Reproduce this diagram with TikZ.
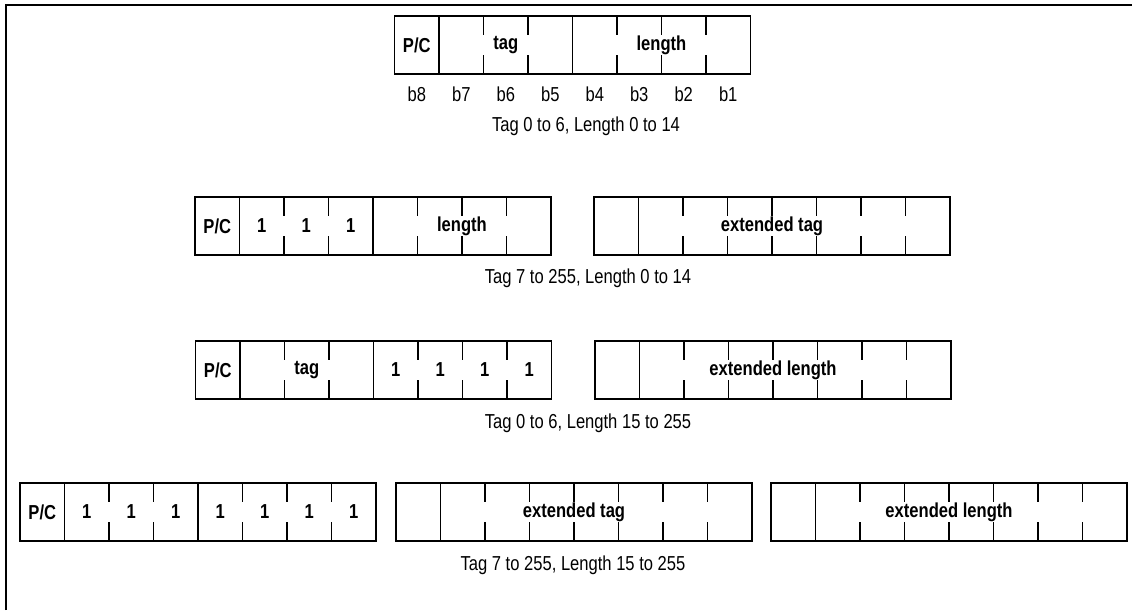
\documentclass[tikz,border=0pt]{standalone}
\usepackage{fontspec}
\setmainfont{Liberation Sans}[FakeStretch=0.82]
\usetikzlibrary{positioning,calc}

% one register = 8 bit cells; #1 name, #2 cells followed by a full divider
\newcommand{\regdividers}[2]{%
  \foreach \i in {1,...,7} {
    \draw[divider] ($(#1.north west)!\i/8!(#1.north east)$) -- ++(0,19);
    \draw[divider] ($(#1.south west)!\i/8!(#1.south east)$) -- ++(0,-19);
  }
  \foreach \i in {#2} {
    \draw[divider] ($(#1.north west)!\i/8!(#1.north east)$) -- ($(#1.south west)!\i/8!(#1.south east)$);
  }
}

\begin{document}
\begin{tikzpicture}[
    x=0.02cm, y=-0.02cm,
    register/.style={rectangle, draw, line width=1pt, outer sep=0pt, inner sep=0pt, minimum width=7.12cm, minimum height=1.16cm},
    divider/.style={line width=1pt},
    frame/.style={line width=1.2pt},
    field/.style={font=\fontsize{11.5}{13}\selectfont\bfseries, inner sep=0pt},
    bitno/.style={font=\fontsize{11.5}{13}\selectfont, inner sep=0pt},
    caption/.style={font=\fontsize{11.5}{13}\selectfont, inner sep=0pt}
]
    \useasboundingbox (0,0) rectangle (1132,610);
    \draw[frame] (6,610) -- (6,5) -- (1132,5);

    % Tag 0 to 6, Length 0 to 14
    \node[register] (r1) at (572.5,45) {};
    \regdividers{r1}{1,4}
    \node[field] (r1pc) at ($(r1.west)!1/16!(r1.east)$) {P/C};
    \node[field] (r1tag) at ($(r1.west)!5/16!(r1.east)$) {tag};
    \node[field] (r1len) at ($(r1.west)!12/16!(r1.east)$) {length};
    \foreach \b [count=\j] in {8,7,...,1}
        \node[bitno] (b\b) at ($(r1.south west)!{(2*\j-1)/16}!(r1.south east)+(0,20)$) {b\b};
    \node[caption] (c1) at (586,126) {Tag 0 to 6, Length 0 to 14};

    % Tag 7 to 255, Length 0 to 14
    \node[register] (r2a) at (373,226) {};
    \regdividers{r2a}{1,4}
    \node[field] (r2apc) at ($(r2a.west)!1/16!(r2a.east)$) {P/C};
    \foreach \k in {2,3,4}
        \node[field] (r2a\k) at ($(r2a.west)!{(2*\k-1)/16}!(r2a.east)$) {1};
    \node[field] (r2alen) at ($(r2a.west)!12/16!(r2a.east)$) {length};
    \node[register] (r2b) at (772,226) {};
    \regdividers{r2b}{1}
    \node[field] (r2bext) at (r2b.center) {extended tag};
    \node[caption] (c2) at (588,278) {Tag 7 to 255, Length 0 to 14};

    % Tag 0 to 6, Length 15 to 255
    \node[register] (r3a) at (373.5,370) {};
    \regdividers{r3a}{1,4}
    \node[field] (r3apc) at ($(r3a.west)!1/16!(r3a.east)$) {P/C};
    \node[field] (r3atag) at ($(r3a.west)!5/16!(r3a.east)$) {tag};
    \foreach \k in {5,...,8}
        \node[field] (r3a\k) at ($(r3a.west)!{(2*\k-1)/16}!(r3a.east)$) {1};
    \node[register] (r3b) at (773,370) {};
    \regdividers{r3b}{1}
    \node[field] (r3bext) at (r3b.center) {extended length};
    \node[caption] (c3) at (588,423) {Tag 0 to 6, Length 15 to 255};

    % Tag 7 to 255, Length 15 to 255
    \node[register] (r4a) at (198,512) {};
    \regdividers{r4a}{1,4}
    \node[field] (r4apc) at ($(r4a.west)!1/16!(r4a.east)$) {P/C};
    \foreach \k in {2,...,8}
        \node[field] (r4a\k) at ($(r4a.west)!{(2*\k-1)/16}!(r4a.east)$) {1};
    \node[register] (r4b) at (574,512) {};
    \regdividers{r4b}{1}
    \node[field] (r4bext) at (r4b.center) {extended tag};
    \node[register] (r4c) at (949,512) {};
    \regdividers{r4c}{1}
    \node[field] (r4cext) at (r4c.center) {extended length};
    \node[caption] (c4) at (573,565) {Tag 7 to 255, Length 15 to 255};
\end{tikzpicture}
\end{document}
